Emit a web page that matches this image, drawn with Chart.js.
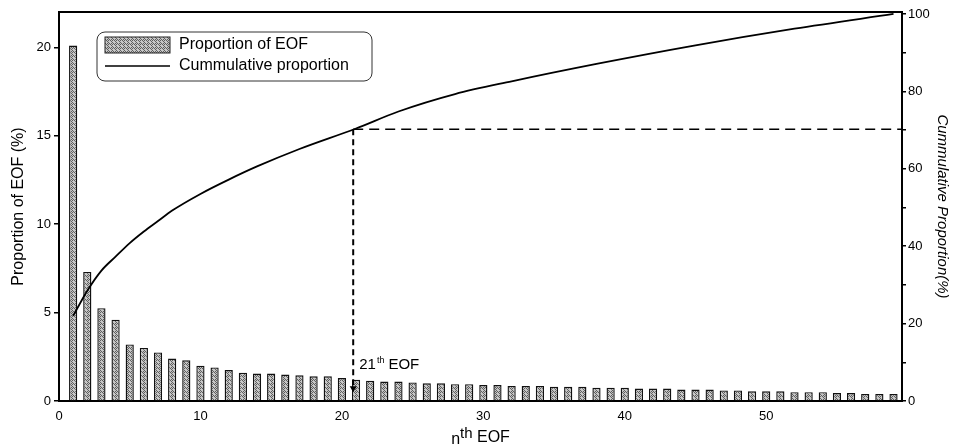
<!DOCTYPE html>
<html>
<head>
<meta charset="utf-8">
<script src="https://cdn.jsdelivr.net/npm/chart.js@4.4.1/dist/chart.umd.min.js"></script>
<style>
  html, body { margin: 0; padding: 0; background: #fff; }
  #contenedor { width: 957px; height: 448px; }
</style>
</head>
<body>
<div id="contenedor"><canvas id="grafica_eof"></canvas></div>
<script>
// numero de EOF (1..59)
const eof_n = Array.from({ length: 59 }, (_, i) => i + 1);

// proporcion de varianza de cada EOF (%)
const proporcion_eof = [
  20.1, 7.3, 5.25, 4.6, 3.2, 3.0, 2.75, 2.4, 2.3, 2.0,
  1.9, 1.75, 1.6, 1.55, 1.55, 1.5, 1.45, 1.4, 1.4, 1.3,
  1.2, 1.15, 1.1, 1.1, 1.05, 1.0, 1.0, 0.95, 0.95, 0.9,
  0.9, 0.85, 0.85, 0.85, 0.8, 0.8, 0.8, 0.75, 0.75, 0.75,
  0.7, 0.7, 0.7, 0.65, 0.65, 0.65, 0.6, 0.6, 0.55, 0.55,
  0.55, 0.5, 0.5, 0.5, 0.45, 0.45, 0.4, 0.4, 0.4
];

// proporcion acumulada (%)
const acumulada_x = [1, 2, 3, 4, 5, 6, 7, 8, 10, 12, 14, 17, 21, 24, 28, 32, 38, 45, 52, 59];
const acumulada_y = [22, 28.5, 33.7, 37.3, 40.8, 43.8, 46.5, 49.2, 53.5, 57.2, 60.6, 65.1, 70.4, 74.8, 79.3, 82.6, 87.1, 91.9, 96.2, 100];

// marca del EOF 21 / 70 %
const marca_eof = 20.8;
const marca_acum = 70.2;

const fuente = "'Liberation Sans', Arial, sans-serif";

// relleno punteado gris de las barras
function trama() {
  const c = document.createElement('canvas');
  c.width = 4; c.height = 4;
  const g = c.getContext('2d');
  g.fillStyle = '#c6c6c6'; g.fillRect(0, 0, 4, 4);
  g.fillStyle = '#5e5e5e';
  [[0, 0], [2, 0], [3, 1], [0, 2], [1, 3], [3, 3]].forEach(([x, y]) => g.fillRect(x, y, 1, 1));
  return g.createPattern(c, 'repeat');
}

const relleno = trama();

const extras = {
  id: 'extras',
  afterDatasetsDraw(chart) {
    const { ctx, chartArea: a, scales } = chart;
    const xs = scales.x, yi = scales.y, yd = scales.y2;
    ctx.save();

    // borde superior del marco
    ctx.strokeStyle = '#000';
    ctx.lineWidth = 2;
    ctx.beginPath();
    ctx.moveTo(a.left, a.top);
    ctx.lineTo(a.right, a.top);
    ctx.stroke();

    // lineas punteadas de la marca
    const px = xs.getPixelForValue(marca_eof);
    const py = yd.getPixelForValue(marca_acum);
    const pFin = yi.getPixelForValue(0.5);
    ctx.lineWidth = 2;
    ctx.setLineDash([6, 4]);
    ctx.beginPath();
    ctx.moveTo(px, py);
    ctx.lineTo(px, pFin - 5);
    ctx.stroke();
    ctx.lineWidth = 1.5;
    ctx.setLineDash([10, 6]);
    ctx.beginPath();
    ctx.moveTo(px, py);
    ctx.lineTo(a.right, py);
    ctx.stroke();
    ctx.setLineDash([]);
    ctx.fillStyle = '#000';
    ctx.beginPath();
    ctx.moveTo(px - 3.5, pFin - 6);
    ctx.lineTo(px + 3.5, pFin - 6);
    ctx.lineTo(px, pFin);
    ctx.closePath();
    ctx.fill();

    // etiqueta 21th EOF
    ctx.textBaseline = 'alphabetic';
    ctx.textAlign = 'left';
    let tx = px + 6;
    const ty = yi.getPixelForValue(1.3) - 9;
    ctx.font = '15px ' + fuente;
    ctx.fillText('21', tx, ty);
    tx += ctx.measureText('21').width + 1;
    ctx.font = '9px ' + fuente;
    ctx.fillText('th', tx, ty - 6);
    tx += ctx.measureText('th').width + 4;
    ctx.font = '15px ' + fuente;
    ctx.fillText('EOF', tx, ty);

    // titulo del eje x: nth EOF
    const partes = [['n', 16, 0], ['th', 15, -6], [' EOF', 16, -2]];
    let ancho = 0;
    partes.forEach(([t, s]) => { ctx.font = s + 'px ' + fuente; ancho += ctx.measureText(t).width; });
    let bx = (a.left + a.right) / 2 - ancho / 2;
    const by = 444;
    partes.forEach(([t, s, d]) => {
      ctx.font = s + 'px ' + fuente;
      ctx.fillText(t, bx, by + d);
      bx += ctx.measureText(t).width;
    });

    // leyenda
    const lx = 97, ly = 32, lw = 275, lh = 49;
    ctx.strokeStyle = '#333';
    ctx.lineWidth = 1;
    ctx.beginPath();
    ctx.roundRect(lx, ly, lw, lh, 8);
    ctx.stroke();
    ctx.fillStyle = relleno;
    ctx.fillRect(105, 37, 65, 16);
    ctx.strokeStyle = '#222';
    ctx.strokeRect(105, 37, 65, 16);
    ctx.strokeStyle = '#000';
    ctx.lineWidth = 1.6;
    ctx.beginPath();
    ctx.moveTo(105, 66);
    ctx.lineTo(170, 66);
    ctx.stroke();
    ctx.fillStyle = '#000';
    ctx.font = '16px ' + fuente;
    ctx.textBaseline = 'middle';
    ctx.fillText(chart.data.datasets[0].label, 179, 45);
    ctx.fillText(chart.data.datasets[1].label, 179, 66);

    ctx.restore();
  }
};

new Chart(document.getElementById('grafica_eof').getContext('2d'), {
  type: 'bar',
  data: {
    datasets: [
      {
        type: 'bar',
        label: 'Proportion of EOF',
        data: eof_n.map((n, i) => ({ x: n, y: proporcion_eof[i] })),
        yAxisID: 'y',
        backgroundColor: relleno,
        borderColor: '#111',
        borderWidth: 1.4,
        barPercentage: 0.58,
        categoryPercentage: 1,
        order: 1
      },
      {
        type: 'line',
        label: 'Cummulative proportion',
        data: acumulada_x.map((n, i) => ({ x: n, y: acumulada_y[i] })),
        yAxisID: 'y2',
        borderColor: '#000',
        borderWidth: 1.8,
        pointRadius: 0,
        cubicInterpolationMode: 'monotone',
        fill: false,
        order: 0
      }
    ]
  },
  options: {
    responsive: true,
    maintainAspectRatio: false,
    animation: false,
    layout: { padding: { top: 12, left: 0, right: 0, bottom: 0 } },
    plugins: {
      legend: { display: false },
      tooltip: { enabled: false }
    },
    scales: {
      x: {
        type: 'linear',
        min: 0,
        max: 59.6,
        offset: false,
        grid: { display: false, drawTicks: false },
        border: { display: true, color: '#000', width: 2 },
        ticks: {
          stepSize: 10,
          includeBounds: false,
          padding: 8,
          color: '#000',
          maxRotation: 0,
          font: { family: fuente, size: 13 }
        },
        afterFit: s => { s.height = 47; }
      },
      y: {
        position: 'left',
        min: 0,
        max: 22,
        grid: { drawOnChartArea: false, drawTicks: true, tickLength: 5, color: '#000', lineWidth: 1.5 },
        border: { display: true, color: '#000', width: 2 },
        ticks: {
          stepSize: 5,
          includeBounds: false,
          padding: 3,
          color: '#000',
          font: { family: fuente, size: 13 }
        },
        title: {
          display: true,
          text: 'Proportion of EOF (%)',
          color: '#000',
          padding: { top: 9, bottom: 0 },
          font: { family: fuente, size: 16 }
        },
        afterFit: s => { s.width = 59; }
      },
      y2: {
        position: 'right',
        min: 0,
        max: 100.5,
        grid: { drawOnChartArea: false, drawTicks: true, tickLength: 4, color: '#000', lineWidth: 1.5 },
        border: { display: true, color: '#000', width: 2 },
        ticks: {
          stepSize: 10,
          includeBounds: false,
          padding: 2,
          color: '#000',
          font: { family: fuente, size: 13 },
          callback: v => (v % 20 === 0 ? v : '')
        },
        title: {
          display: true,
          text: 'Cummulative Proportion(%)',
          color: '#000',
          padding: { top: 6, bottom: 0 },
          font: { family: fuente, size: 15, style: 'italic' }
        },
        afterFit: s => { s.width = 55; }
      }
    }
  },
  plugins: [extras]
});
</script>
</body>
</html>
